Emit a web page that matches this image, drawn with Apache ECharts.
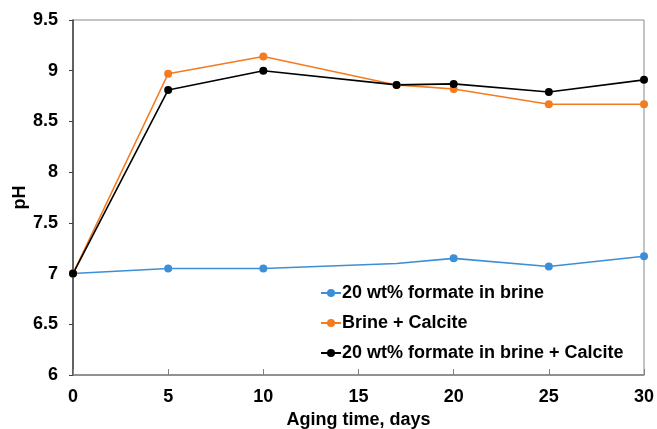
<!DOCTYPE html>
<html>
<head>
<meta charset="utf-8">
<script src="https://cdn.jsdelivr.net/npm/echarts@6/dist/echarts.min.js"></script>
<style>html,body{margin:0;padding:0;background:#fff}#c{width:657px;height:429px}</style>
</head>
<body>
<div id="c"></div>
<script>
var days = [0, 5, 10, 17, 20, 25, 30];
var formateBrine = [7.0, 7.05, 7.05, 7.10, 7.15, 7.07, 7.17];
var brineCalcite = [7.0, 8.97, 9.14, 8.86, 8.82, 8.67, 8.67];
var formateBrineCalcite = [7.0, 8.81, 9.0, 8.86, 8.87, 8.79, 8.91];
var seriesNames = ['20 wt% formate in brine', 'Brine + Calcite', '20 wt% formate in brine + Calcite'];
var hiddenMarkerDay = 17;

function pairs(vals, hideDay) {
  return days.map(function (d, i) {
    var p = { value: [d, vals[i]] };
    if (hideDay !== undefined && d === hideDay) p.symbolSize = 0;
    return p;
  });
}
var font = '"Liberation Sans", Arial, sans-serif';
var chart = echarts.init(document.getElementById('c'), null, { renderer: 'canvas' });
function mk(name, data, color) {
  return {
    name: name, type: 'line', data: data,
    symbol: 'circle', symbolSize: 8,
    lineStyle: { color: color, width: 1.6 },
    itemStyle: { color: color },
    animation: false
  };
}
chart.setOption({
  animation: false,
  grid: { left: 73, right: 13, top: 20, bottom: 54, show: true, borderColor: '#8a8a8a', borderWidth: 1,
          outerBoundsMode: 'none', containLabel: false },
  xAxis: {
    type: 'value', min: 0, max: 30, interval: 5,
    name: 'Aging time, days', nameLocation: 'middle', nameGap: 36, nameMoveOverlap: false,
    nameTextStyle: { fontFamily: font, fontWeight: 'bold', fontSize: 18, color: '#000' },
    axisLine: { lineStyle: { color: '#808080', width: 1.5 } },
    axisTick: { inside: true, length: 6, lineStyle: { color: '#808080' } },
    axisLabel: { fontFamily: font, fontWeight: 'bold', fontSize: 18, color: '#000', margin: 13 },
    splitLine: { show: false }
  },
  yAxis: {
    type: 'value', min: 6, max: 9.5, interval: 0.5,
    name: 'pH', nameLocation: 'middle', nameGap: 44, nameRotate: 90, nameMoveOverlap: false,
    nameTextStyle: { fontFamily: font, fontWeight: 'bold', fontSize: 18, color: '#000' },
    axisLine: { show: true, lineStyle: { color: '#404040', width: 1.5 } },
    axisTick: { show: true, length: 4, lineStyle: { color: '#404040' } },
    axisLabel: { fontFamily: font, fontWeight: 'bold', fontSize: 18, color: '#000', margin: 15 },
    splitLine: { show: false }
  },
  legend: {
    orient: 'vertical', left: 315, top: 279, itemGap: 12,
    itemWidth: 20, itemHeight: 10,
    textStyle: { fontFamily: font, fontWeight: 'bold', fontSize: 18, color: '#000', padding: [0, 0, 0, -4] },
    data: seriesNames
  },
  series: [
    mk(seriesNames[0], pairs(formateBrine, hiddenMarkerDay), '#3c8fd6'),
    mk(seriesNames[1], pairs(brineCalcite), '#f47b20'),
    mk(seriesNames[2], pairs(formateBrineCalcite), '#000000')
  ]
});
</script>
</body>
</html>
